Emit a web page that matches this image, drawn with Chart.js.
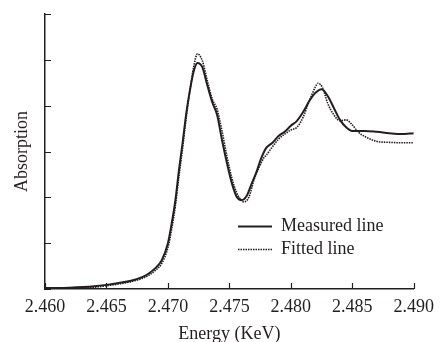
<!DOCTYPE html>
<html>
<head>
<meta charset="utf-8">
<script src="https://cdn.jsdelivr.net/npm/chart.js@4.4.0/dist/chart.umd.min.js"></script>
<style>
  html, body { margin: 0; padding: 0; background: #fff; }
  #wrap { width: 441px; height: 342px; }
</style>
</head>
<body>
<div id="wrap"><canvas id="xanes" width="441" height="342"></canvas></div>
<script>
/* Measured vs fitted absorption spectrum */
const INK = '#231f20';
const FONT = '"Liberation Serif", "Times New Roman", serif';

const measuredEnergy = [2.460, 2.462, 2.464, 2.465, 2.466, 2.467, 2.468, 2.4685, 2.469, 2.4695, 2.470, 2.4703, 2.4706, 2.4709, 2.4712, 2.4715, 2.4718, 2.4721, 2.4724, 2.4728, 2.4732, 2.4736, 2.474, 2.4744, 2.4748, 2.4752, 2.4756, 2.476, 2.4764, 2.4768, 2.4772, 2.4776, 2.478, 2.4785, 2.479, 2.4795, 2.480, 2.4805, 2.481, 2.4815, 2.482, 2.4825, 2.483, 2.4835, 2.484, 2.4845, 2.485, 2.486, 2.487, 2.488, 2.489, 2.490];
const measuredValues = [0.02, 0.03, 0.06, 0.09, 0.13, 0.18, 0.27, 0.35, 0.46, 0.63, 1.00, 1.42, 1.92, 2.60, 3.20, 3.85, 4.35, 4.75, 4.93, 4.84, 4.45, 4.08, 3.80, 3.25, 2.75, 2.31, 2.01, 1.94, 2.03, 2.29, 2.55, 2.86, 3.08, 3.19, 3.34, 3.43, 3.56, 3.67, 3.86, 4.10, 4.28, 4.36, 4.21, 3.95, 3.69, 3.53, 3.45, 3.45, 3.43, 3.40, 3.38, 3.40];

const fittedEnergy = [2.460, 2.462, 2.464, 2.465, 2.466, 2.467, 2.468, 2.4685, 2.469, 2.4695, 2.470, 2.4703, 2.4706, 2.4709, 2.4712, 2.4715, 2.4718, 2.4721, 2.4724, 2.4728, 2.4732, 2.4736, 2.4740, 2.4744, 2.4748, 2.4752, 2.4756, 2.476, 2.4762, 2.4766, 2.477, 2.4774, 2.4778, 2.478, 2.4785, 2.479, 2.4795, 2.480, 2.4805, 2.481, 2.4815, 2.482, 2.4822, 2.4826, 2.483, 2.4835, 2.484, 2.4845, 2.485, 2.4855, 2.486, 2.487, 2.488, 2.489, 2.490];
const fittedValues = [0.00, 0.02, 0.04, 0.07, 0.11, 0.16, 0.24, 0.31, 0.41, 0.56, 0.90, 1.30, 1.80, 2.46, 3.08, 3.76, 4.35, 4.85, 5.13, 4.98, 4.55, 4.15, 3.92, 3.45, 2.90, 2.42, 2.10, 1.92, 1.90, 2.01, 2.38, 2.64, 2.86, 2.92, 3.10, 3.27, 3.38, 3.47, 3.53, 3.75, 4.10, 4.41, 4.49, 4.38, 4.05, 3.80, 3.67, 3.69, 3.58, 3.42, 3.33, 3.22, 3.20, 3.19, 3.19];

const xTicks = [2.460, 2.465, 2.470, 2.475, 2.480, 2.485, 2.490];
const yTicks = [0, 1, 2, 3, 4, 5, 6];
const seriesNames = ['Measured line', 'Fitted line'];

const pts = (xs, ys) => xs.map((x, i) => ({ x: x, y: ys[i] }));

// inward tick marks on both axes
const inwardTicks = {
  id: 'inwardTicks',
  afterDraw(chart) {
    const { ctx, scales: { x, y } } = chart;
    ctx.save();
    ctx.strokeStyle = INK;
    ctx.lineWidth = 1.2;
    ctx.beginPath();
    xTicks.forEach(v => {
      const px = Math.round(x.getPixelForValue(v)) + 0.5;
      ctx.moveTo(px, y.bottom);
      ctx.lineTo(px, y.bottom - 6);
    });
    yTicks.forEach(v => {
      const py = Math.round(y.getPixelForValue(v)) + 0.5;
      ctx.moveTo(x.left, py);
      ctx.lineTo(x.left + 6, py);
    });
    ctx.stroke();
    ctx.restore();
  },
};

// legend sitting inside the plot
const innerLegend = {
  id: 'innerLegend',
  afterDraw(chart) {
    const { ctx } = chart;
    const x0 = 238, x1 = 272, tx = 281;
    const rows = [226, 249];
    ctx.save();
    ctx.font = '18px ' + FONT;
    ctx.fillStyle = INK;
    ctx.textBaseline = 'middle';
    rows.forEach((ry, i) => {
      const ds = chart.data.datasets[i];
      ctx.strokeStyle = ds.borderColor;
      ctx.lineWidth = ds.borderWidth;
      ctx.setLineDash(ds.borderDash || []);
      ctx.beginPath();
      ctx.moveTo(x0, ry + 0.5);
      ctx.lineTo(x1, ry + 0.5);
      ctx.stroke();
      ctx.fillText(seriesNames[i], tx, ry);
    });
    ctx.restore();
  },
};

new Chart(document.getElementById('xanes'), {
  type: 'line',
  data: {
    datasets: [
      {
        label: seriesNames[0],
        data: pts(measuredEnergy, measuredValues),
        borderColor: INK,
        borderWidth: 2,
        pointRadius: 0,
        cubicInterpolationMode: 'monotone',
        fill: false,
      },
      {
        label: seriesNames[1],
        data: pts(fittedEnergy, fittedValues),
        borderColor: INK,
        borderWidth: 1.6,
        borderDash: [1.5, 1],
        pointRadius: 0,
        cubicInterpolationMode: 'monotone',
        fill: false,
      },
    ],
  },
  options: {
    responsive: false,
    animation: false,
    layout: { padding: { top: 14, right: 27, left: 0, bottom: 0 } },
    plugins: {
      legend: { display: false },
      tooltip: { enabled: false },
    },
    scales: {
      x: {
        type: 'linear',
        min: 2.46,
        max: 2.49,
        afterBuildTicks: s => { s.ticks = xTicks.map(v => ({ value: v })); },
        afterFit: s => { s.height = 53; },
        ticks: {
          callback: v => v.toFixed(3),
          font: { family: FONT, size: 18 },
          color: INK,
          padding: 7,
          maxRotation: 0,
          autoSkip: false,
        },
        grid: { display: false, drawTicks: false },
        border: { display: true, color: INK, width: 1.5 },
        title: {
          display: true,
          text: 'Energy (KeV)',
          font: { family: FONT, size: 18, lineHeight: 1 },
          color: INK,
          padding: { top: 0, bottom: -1 },
        },
      },
      y: {
        type: 'linear',
        min: 0,
        max: 6,
        afterFit: s => { s.width = 45; },
        ticks: { display: false },
        grid: { display: false, drawTicks: false },
        border: { display: true, color: INK, width: 1.5 },
        title: {
          display: true,
          text: 'Absorption',
          font: { family: FONT, size: 18, lineHeight: 1 },
          color: INK,
          padding: { top: 13, bottom: 0 },
        },
      },
    },
  },
  plugins: [inwardTicks, innerLegend],
});
</script>
</body>
</html>
